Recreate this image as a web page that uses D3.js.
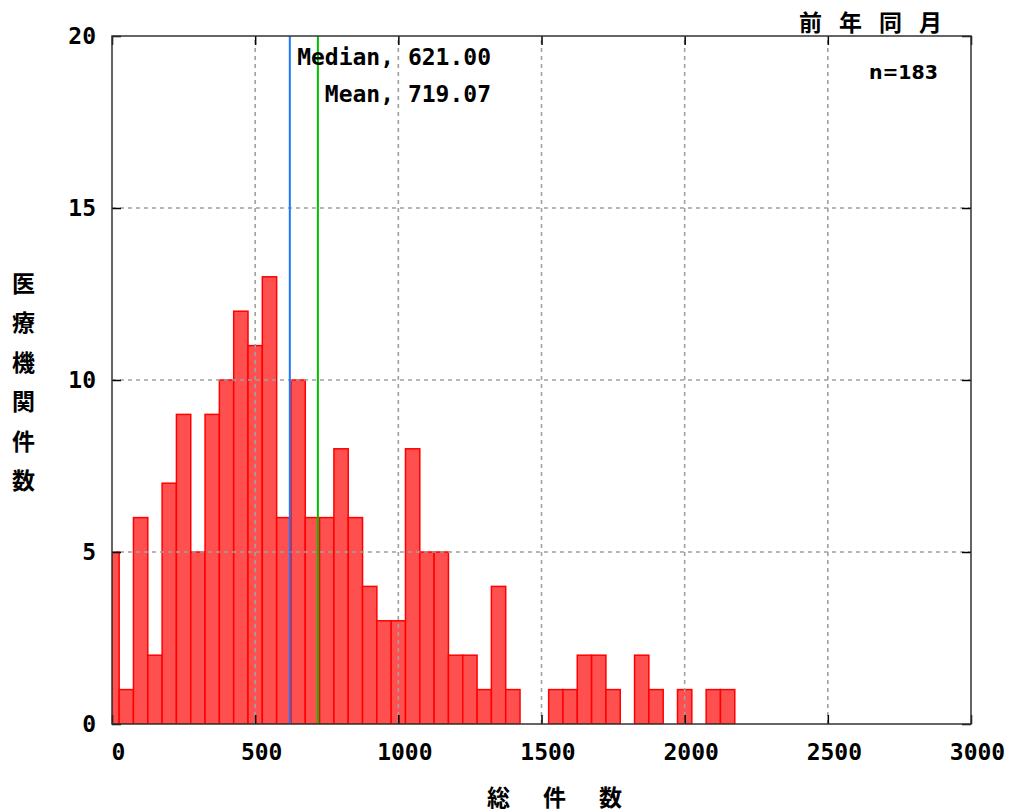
<!DOCTYPE html>
<html><head><meta charset="utf-8">
<script src="https://cdn.jsdelivr.net/npm/d3@7"></script>
<style>
html,body{margin:0;padding:0;background:#fff;}
svg{display:block;}
</style>
</head><body>
<svg id="chart" width="1010" height="812"></svg>
<script>
// ---- data ----
const binCenters = [0,50,100,150,200,250,300,350,400,450,500,550,600,650,700,750,800,850,900,950,1000,1050,1100,1150,1200,1250,1300,1350,1400,1450,1500,1550,1600,1650,1700,1750,1800,1850,1900,1950,2000,2050,2100,2150];
const counts     = [5,1,6,2,7,9,5,9,10,12,11,13,6,10,6,6,8,6,4,3,3,8,5,5,2,2,1,4,1,0,0,1,1,2,2,1,0,2,1,0,1,0,1,1];
const binWidth = 50;
const xTicks = [0,500,1000,1500,2000,2500,3000];
const yTicks = [0,5,10,15,20];
const medianValue = 621.00;
const meanValue = 719.07;
const nCount = 183;
const titleText = "前年同月";
const xLabelText = "総件数";
const yLabelChars = ["医","療","機","関","件","数"];

// ---- layout ----
const L = 112, R = 971, T = 36, B = 724;
const svg = d3.select("#chart");
const x = d3.scaleLinear().domain([0,3000]).range([L,R]);
const y = d3.scaleLinear().domain([0,20]).range([B,T]);
const mono = "'DejaVu Sans Mono', 'Liberation Mono', monospace";
const cjk = "'Noto Sans CJK JP', 'Noto Sans CJK SC', sans-serif";

svg.append("defs").append("clipPath").attr("id","plotclip")
  .append("rect").attr("x",L).attr("y",T).attr("width",R-L).attr("height",B-T);

// bars
const bins = binCenters.map((c,i)=>({c, n: counts[i]})).filter(d=>d.n>0);
svg.append("g").attr("clip-path","url(#plotclip)")
  .selectAll("rect").data(bins).join("rect")
  .attr("x", d => x(Math.max(0, d.c - binWidth/2)))
  .attr("width", d => x(d.c + binWidth/2) - x(Math.max(0, d.c - binWidth/2)))
  .attr("y", d => y(d.n))
  .attr("height", d => y(0) - y(d.n))
  .attr("fill", "#ff5050")
  .attr("stroke", "#ff0000")
  .attr("stroke-width", 1.5);

// grid (drawn in front of bars)
const grid = svg.append("g").attr("stroke","#a0a0a0").attr("stroke-width",1.6).attr("stroke-dasharray","4,4");
grid.selectAll("line.vx").data(xTicks.filter(v=>v>0 && v<3000)).join("line")
  .attr("x1", d=>x(d)).attr("x2", d=>x(d)).attr("y1", B).attr("y2", T);
grid.selectAll("line.hy").data(yTicks.filter(v=>v>0 && v<20)).join("line")
  .attr("x1", L).attr("x2", R).attr("y1", d=>y(d)).attr("y2", d=>y(d));

// median / mean lines
svg.append("line").attr("x1",x(medianValue)).attr("x2",x(medianValue)).attr("y1",B).attr("y2",T)
  .attr("stroke","#1e78ff").attr("stroke-width",2);
svg.append("line").attr("x1",x(meanValue)).attr("x2",x(meanValue)).attr("y1",B).attr("y2",T)
  .attr("stroke","#00c000").attr("stroke-width",2);

// axes
const tickLen = 9;
const xAxis = svg.append("g").attr("transform",`translate(0,${B})`)
  .call(d3.axisBottom(x).tickValues(xTicks).tickSize(-tickLen).tickPadding(20).tickFormat(d3.format("d")));
const yAxis = svg.append("g").attr("transform",`translate(${L},0)`)
  .call(d3.axisLeft(y).tickValues(yTicks).tickSize(-tickLen).tickPadding(16).tickFormat(d3.format("d")));
const xTop = svg.append("g").attr("transform",`translate(0,${T})`)
  .call(d3.axisTop(x).tickValues(xTicks).tickSize(-tickLen).tickFormat(""));
const yRight = svg.append("g").attr("transform",`translate(${R},0)`)
  .call(d3.axisRight(y).tickValues(yTicks).tickSize(-tickLen).tickFormat(""));
[xAxis,yAxis,xTop,yRight].forEach(g=>{
  g.select(".domain").remove();
  g.selectAll(".tick line").attr("stroke","#000").attr("stroke-width",1.5);
  g.selectAll("text").attr("font-family",mono).attr("font-weight","bold").attr("font-size",23).attr("fill","#000");
});
xAxis.selectAll("text").attr("dx",6);

// border
svg.append("rect").attr("x",L).attr("y",T).attr("width",R-L).attr("height",B-T)
  .attr("fill","none").attr("stroke","#333").attr("stroke-width",1.5);

// annotations
svg.append("text").attr("x",491).attr("y",65).attr("text-anchor","end")
  .attr("font-family",mono).attr("font-weight","bold").attr("font-size",23)
  .text("Median, " + medianValue.toFixed(2));
svg.append("text").attr("x",491).attr("y",102).attr("text-anchor","end")
  .attr("font-family",mono).attr("font-weight","bold").attr("font-size",23)
  .text("Mean, " + meanValue.toFixed(2));
svg.append("text").attr("x",938).attr("y",79).attr("text-anchor","end")
  .attr("font-family","'DejaVu Sans', sans-serif").attr("font-weight","bold").attr("font-size",19)
  .text("n=" + nCount);

// title
svg.append("text").attr("x",799).attr("y",31)
  .attr("font-family",cjk).attr("font-weight","bold").attr("font-size",23)
  .attr("letter-spacing",17).text(titleText);

// x label
svg.append("text").attr("x",487).attr("y",806)
  .attr("font-family",cjk).attr("font-weight","bold").attr("font-size",23)
  .attr("letter-spacing",33).text(xLabelText);

// y label (stacked characters)
svg.append("g").selectAll("text").data(yLabelChars).join("text")
  .attr("x",23.5).attr("y",(d,i)=>291.5 + 39.5*i).attr("text-anchor","middle")
  .attr("font-family",cjk).attr("font-weight","bold").attr("font-size",23)
  .text(d=>d);
</script>
</body></html>
